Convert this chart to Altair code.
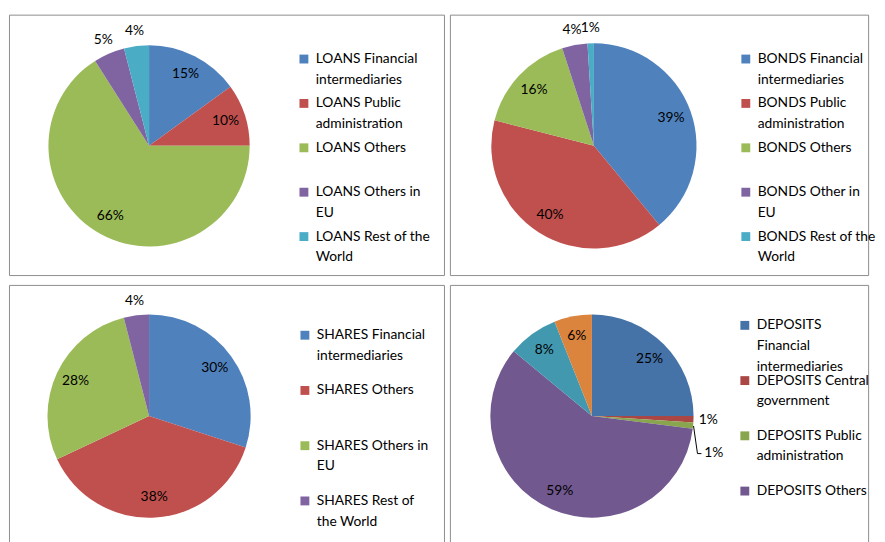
import altair as alt
import pandas as pd

FONT = "Lato"

# ---- data (labels use "|" for the legend's line breaks) ----
LOANS_CATS = ["LOANS Financial|intermediaries", "LOANS Public|administration",
              "LOANS Others|", "LOANS Others in|EU", "LOANS Rest of the|World"]
LOANS_VALS = [15, 10, 66, 5, 4]

BONDS_CATS = ["BONDS Financial|intermediaries", "BONDS Public|administration",
              "BONDS Others|", "BONDS Other in|EU", "BONDS Rest of the|World"]
BONDS_VALS = [39, 40, 16, 4, 1]

SHARES_CATS = ["SHARES Financial|intermediaries", "SHARES Others|",
               "SHARES Others in|EU", "SHARES Rest of|the World"]
SHARES_VALS = [30, 38, 28, 4]

DEP_CATS = ["DEPOSITS|Financial|intermediaries", "DEPOSITS Central|government|",
            "DEPOSITS Public|administration|", "DEPOSITS Others",
            "DEPOSITS Others in EU", "DEPOSITS Rest of the World"]
DEP_VALS = [25, 1, 1, 59, 8, 6]

EXCEL = ["#4F81BD", "#C0504D", "#9BBB59", "#8064A2", "#4BACC6"]
EXCEL_DARK = ["#4572A7", "#AA4643", "#89A54E", "#71588F", "#4198AF", "#DB843D"]


def panel(cats, vals, colors, w, h, cx, cy, r, lx, ly, row_pad,
          legend_values=None, nudge=None):
    df = pd.DataFrame({"category": cats, "value": vals, "idx": list(range(len(cats)))})
    base = (
        alt.Chart(df)
        .transform_window(cum="sum(value)", sort=[alt.SortField("idx")], frame=[None, 0])
        .transform_joinaggregate(total="sum(value)")
        .transform_calculate(
            mid="(datum.cum - datum.value / 2) / datum.total * 2 * PI",
            label="datum.value + '%'",
            lr=f"datum.value <= 5 ? {r + 15} : {r * 0.8}",
        )
    )
    legend_kw = dict(
        title=None, orient="none", legendX=lx, legendY=ly,
        labelExpr="split(datum.label, '|')", labelFont=FONT, labelFontSize=14,
        labelColor="#000000", labelLimit=500, labelOffset=5, labelBaseline="middle",
        symbolType="square", symbolSize=81, symbolStrokeWidth=0, rowPadding=row_pad,
        padding=0,
    )
    if legend_values is not None:
        legend_kw["values"] = legend_values
    arc = base.mark_arc(outerRadius=r).encode(
        theta=alt.Theta("value:Q", stack=True),
        order=alt.Order("idx:Q"),
        color=alt.Color("category:N", scale=alt.Scale(domain=cats, range=colors),
                        legend=alt.Legend(**legend_kw)),
        x=alt.value(cx), y=alt.value(cy),
    )
    lab_enc = dict(
        theta=alt.Theta("mid:Q", scale=None, stack=None),
        radius=alt.Radius("lr:Q", scale=None),
        text="label:N", x=alt.value(cx), y=alt.value(cy),
    )
    labels_data = base
    if nudge is not None:
        labels_data = base.transform_filter(alt.datum.category != nudge)
    labels = labels_data.mark_text(font=FONT, fontSize=14, color="black").encode(**lab_enc)
    layers = [arc, labels]
    if nudge is not None:
        n_enc = dict(lab_enc)
        n_enc["radius"] = alt.value(r + 21)
        nl = base.transform_filter(alt.datum.category == nudge).mark_text(
            font=FONT, fontSize=14, color="black", dy=26).encode(**n_enc)
        one = alt.Chart(pd.DataFrame({"k": [0]}))
        lead1 = one.mark_rule(color="black", strokeWidth=1).encode(
            x=alt.value(cx + 103), y=alt.value(cy + 10),
            x2=alt.value(cx + 107), y2=alt.value(cy + 38))
        lead2 = one.mark_rule(color="black", strokeWidth=1).encode(
            x=alt.value(cx + 107), y=alt.value(cy + 38),
            x2=alt.value(cx + 111), y2=alt.value(cy + 38))
        layers += [nl, lead1, lead2]
    return alt.layer(*layers).properties(width=w, height=h)


p1 = panel(LOANS_CATS, LOANS_VALS, EXCEL, 441, 264, 142, 133, 102, 292, 38, 10)
p2 = panel(BONDS_CATS, BONDS_VALS, EXCEL, 424, 264, 146, 133, 104, 293, 38, 10)
p3 = panel(SHARES_CATS, SHARES_VALS, EXCEL, 441, 264, 142, 133, 103, 293, 44, 21)
p4 = panel(DEP_CATS, DEP_VALS, EXCEL_DARK, 424, 264, 144, 133, 103, 292, 34, 0,
           legend_values=DEP_CATS[:4], nudge=DEP_CATS[2])


def indep(c):
    return c.resolve_scale(color="independent").resolve_legend(color="independent")


chart = (
    indep(alt.vconcat(
        indep(alt.hconcat(p1, p2, spacing=4)),
        indep(alt.hconcat(p3, p4, spacing=4)),
        spacing=8,
    ))
    .properties(padding={"left": 0, "top": 2, "right": 0, "bottom": 0})
    .configure(style={"guide-label": {"lineHeight": 21}})
    .configure_view(stroke="#8c8c8c", strokeWidth=1)
)

chart.save("out.html", embed_options={"renderer": "svg", "actions": False})
